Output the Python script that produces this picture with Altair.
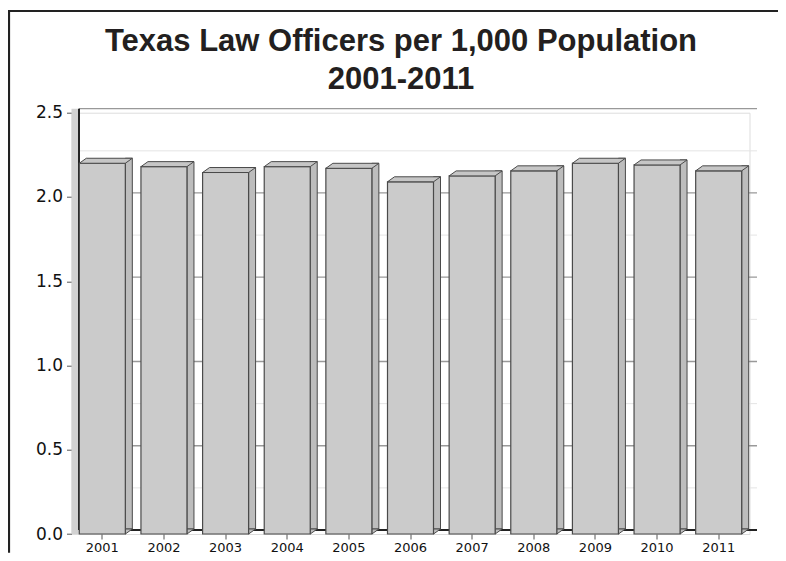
import altair as alt
import pandas as pd

years = ["2001", "2002", "2003", "2004", "2005", "2006", "2007", "2008", "2009", "2010", "2011"]
rates = [2.20, 2.18, 2.145, 2.18, 2.17, 2.09, 2.125, 2.155, 2.20, 2.19, 2.155]

y_ticks = [0.0, 0.5, 1.0, 1.5, 2.0, 2.5]
major_grid = [0.5, 1.0, 1.5, 2.0, 2.5]
minor_grid = [0.25, 0.75, 1.25, 1.75, 2.25]
y_domain = [0.0, 2.5]

title_lines = ["Texas Law Officers per 1,000 Population", "2001-2011"]

bars = pd.DataFrame({"year": years, "rate": rates})
major_df = pd.DataFrame({"v": major_grid})
minor_df = pd.DataFrame({"v": minor_grid})
wall_df = pd.DataFrame({"lo": [y_domain[0]], "hi": [y_domain[1]]})
one = alt.Data(values=[{"k": 1}])

W, H = 678, 421.3
DX, DY = 7.5, 4
FRONT = 46
SIDE = 7
BD = 5
EDGE = "#4a4a4a"

yscale = alt.Scale(domain=y_domain, nice=False, zero=True)
xscale = alt.Scale(domain=years, paddingInner=0, paddingOuter=0)

y_axis = alt.Axis(values=y_ticks, format=".1f", grid=False, domain=False,
                  tickSize=5, tickColor="#555", labelFont="DejaVu Sans",
                  labelFontSize=17, labelColor="#111", labelPadding=4, title=None)
x_axis = alt.Axis(labelAngle=0, domain=False, grid=False, tickSize=5, tickColor="#555",
                  labelFont="DejaVu Sans", labelFontSize=13, labelColor="#111",
                  labelPadding=2, title=None)


def Y(field):
    return alt.Y(field, scale=yscale, axis=y_axis, title=None)


def X():
    return alt.X("year:N", scale=xscale, axis=x_axis, title=None)


# left side wall of the 3D box
wall = alt.Chart(wall_df).mark_rect(fill="#d2d2d2", yOffset=-DY).encode(
    x=alt.value(0), x2=alt.value(DX),
    y=Y("hi:Q"), y2="lo:Q",
)

# back-wall grid lines
minor = alt.Chart(minor_df).mark_rule(color="#e4e4e4", strokeWidth=1, yOffset=-DY).encode(
    y=Y("v:Q"), x=alt.value(DX), x2=alt.value(W + DX),
)
major = alt.Chart(major_df).mark_rule(color="#999999", strokeWidth=1.3, yOffset=-DY).encode(
    y=Y("v:Q"), x=alt.value(DX), x2=alt.value(W + DX),
)
floor_edge = alt.Chart(wall_df).mark_rule(color="#222222", strokeWidth=2, yOffset=-DY).encode(
    y=Y("lo:Q"), x=alt.value(DX), x2=alt.value(W + DX),
)
back_left = alt.Chart(wall_df).mark_rule(color="#222222", strokeWidth=2, yOffset=-DY, y2Offset=-DY).encode(
    x=alt.value(DX), y=Y("hi:Q"), y2="lo:Q",
)

# bar side faces
side = alt.Chart(bars).mark_bar(
    width=SIDE, xOffset=FRONT / 2 + SIDE / 2, yOffset=-BD, y2Offset=-BD,
    fill="#bdbdbd", stroke=EDGE, strokeWidth=1,
).encode(x=X(), y=Y("rate:Q"))

bottom_tri = alt.Chart(bars).mark_point(
    shape=f"M {FRONT/2} 0 L {FRONT/2} {-BD} L {FRONT/2 + SIDE} {-BD} Z",
    size=4, filled=True, fill="#bdbdbd", stroke=EDGE, strokeWidth=1, opacity=1,
).encode(x=X(), y=Y("zero:Q")).transform_calculate(zero="0")

# bar front faces
front = alt.Chart(bars).mark_bar(
    width=FRONT, fill="#cbcbcb", stroke=EDGE, strokeWidth=1.2,
).encode(x=X(), y=Y("rate:Q"))

# bar top faces
top_face = alt.Chart(bars).mark_point(
    shape=f"M {-FRONT/2} 0 L {-FRONT/2 + SIDE} {-BD} L {FRONT/2 + SIDE} {-BD} L {FRONT/2} 0 Z",
    size=4, filled=True, fill="#c6c6c6", stroke=EDGE, strokeWidth=1, opacity=1,
).encode(x=X(), y=Y("rate:Q"))

# outer frame (top and left)
frame_top = alt.Chart(one).mark_rule(color="#222222", strokeWidth=2.2).encode(
    x=alt.value(-62.5), x2=alt.value(706.5), y=alt.value(-101.7),
)
frame_left = alt.Chart(one).mark_rule(color="#222222", strokeWidth=2.2).encode(
    x=alt.value(-62.5), y=alt.value(-102.8), y2=alt.value(440),
)

chart = alt.layer(
    wall, minor, major, floor_edge, back_left, side, bottom_tri, front, top_face,
    frame_top, frame_left,
).properties(
    width=W, height=H,
    autosize=alt.AutoSizeParams(type="none"),
    padding={"left": 63.5, "top": 104.7, "right": 28.5, "bottom": 19},
    title=alt.TitleParams(
        text=title_lines, font="Liberation Sans", fontSize=31, fontWeight="bold",
        color="#231f20", lineHeight=38, anchor="middle", baseline="alphabetic",
        dx=-9.5, dy=111, offset=0,
    ),
).configure_view(stroke=None).configure_axis(grid=False).configure(background="white")

chart.save("out.html", embed_options={"renderer": "svg", "actions": False})
